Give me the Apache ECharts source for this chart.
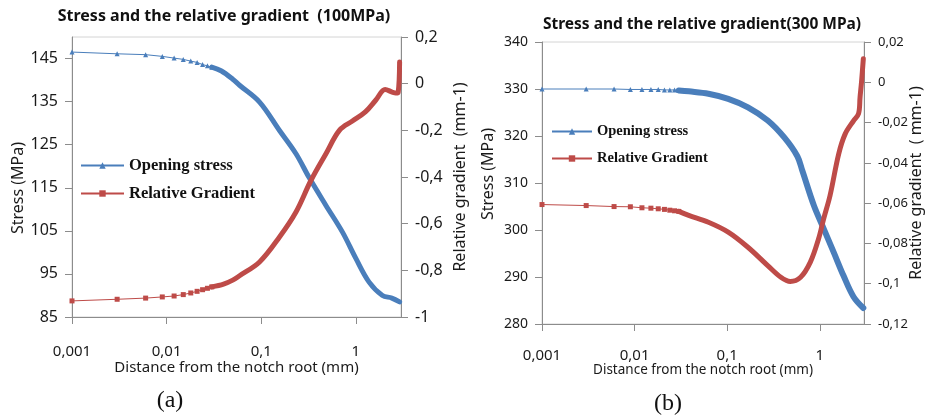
<!DOCTYPE html>
<html>
<head>
<meta charset="utf-8">
<script src="https://cdn.jsdelivr.net/npm/echarts@6/dist/echarts.min.js"></script>
<style>
html, body { margin: 0; padding: 0; background: #fff; }
#main { width: 925px; height: 417px; }
</style>
</head>
<body>
<div id="main"></div>
<script>
// first points are far apart on the log axis, markers visible there
var distEarly = [0.001, 0.003, 0.006, 0.009, 0.012, 0.015, 0.018, 0.021, 0.024, 0.027, 0.03];

// (a) 100 MPa
var stressEarlyA = [146.5, 146.1, 145.9, 145.5, 145.1, 144.8, 144.4, 144.1, 143.6, 143.3, 143.0];
var gradEarlyA = [-0.931, -0.924, -0.919, -0.914, -0.910, -0.904, -0.897, -0.890, -0.883, -0.877, -0.871];
var stressDistA = [0.03, 0.038, 0.05, 0.059, 0.096, 0.156, 0.233, 0.322, 0.483, 0.722, 1.0, 1.38, 1.91, 2.4, 2.9];
var stressA = [143.0, 142.1, 140.2, 138.8, 134.9, 128.3, 122.9, 117.3, 110.9, 104.7, 98.6, 93.1, 90.0, 89.4, 88.5];
var gradDistA = [0.03, 0.04, 0.05, 0.059, 0.096, 0.156, 0.233, 0.336, 0.483, 0.67, 0.92, 1.26, 1.62, 2.04, 2.42, 2.64, 2.8, 2.9];
var gradA = [-0.871, -0.859, -0.842, -0.823, -0.764, -0.657, -0.550, -0.414, -0.300, -0.200, -0.160, -0.121, -0.071, -0.025, -0.036, -0.040, -0.037, 0.093];

// (b) 300 MPa
var stressEarlyB = [330.0, 330.0, 330.0, 329.9, 329.9, 329.9, 329.9, 329.8, 329.8, 329.8, 329.7];
var gradEarlyB = [-0.0607, -0.0612, -0.0617, -0.0618, -0.0623, -0.0625, -0.0628, -0.0631, -0.0635, -0.0638, -0.0641];
var stressDistB = [0.03, 0.0384, 0.0627, 0.1025, 0.1675, 0.274, 0.413, 0.572, 0.648, 0.863, 1.10, 1.41, 1.80, 2.31, 2.95];
var stressB = [329.7, 329.5, 329.0, 327.9, 326.1, 323.3, 319.7, 315.7, 312.6, 305.2, 300.3, 295.3, 290.3, 285.8, 283.4];
var gradDistB = [0.03, 0.0384, 0.0627, 0.1025, 0.1675, 0.274, 0.38, 0.48, 0.62, 0.79, 0.97, 1.10, 1.29, 1.60, 1.88, 2.32, 2.62, 2.72, 2.83, 2.95];
var gradB = [-0.0641, -0.0661, -0.0695, -0.0744, -0.0819, -0.0910, -0.0968, -0.0989, -0.0968, -0.0893, -0.0777, -0.0678, -0.0562, -0.0355, -0.0256, -0.0190, -0.0156, -0.0074, 0.0009, 0.0117];

// tick labels
var distTicks = [0.001, 0.01, 0.1, 1];
var stressTicksA = [85, 95, 105, 115, 125, 135, 145];
var gradTicksA = [-1, -0.8, -0.6, -0.4, -0.2, 0, 0.2];
var stressTicksB = [280, 290, 300, 310, 320, 330, 340];
var gradTicksB = [-0.12, -0.1, -0.08, -0.06, -0.04, -0.02, 0, 0.02];

var blue = '#4A7EBB';
var red = '#BE4B48';
var axisGray = '#8c8c8c';
var txt = '#1a1a1a';
var sans = 'Noto Sans';

function comma(v) {
    return String(Math.round(v * 10000) / 10000).replace('.', ',');
}
function pairs(xs, ys) {
    return xs.map(function (x, i) { return [x, ys[i]]; });
}

function xAxisFor(grid, labelMargin, nameGap, nameSize) {
    return {
        type: 'log', logBase: 10, gridIndex: grid, min: 0.001, max: 3,
        axisLine: { show: true, onZero: false, lineStyle: { color: axisGray } },
        axisTick: { show: true, length: 7, customValues: distTicks, lineStyle: { color: axisGray } },
        axisLabel: { customValues: distTicks, formatter: comma, margin: labelMargin, fontSize: 15, color: txt, fontFamily: sans },
        splitLine: { show: false },
        name: 'Distance from the notch root (mm)', nameLocation: 'middle', nameGap: nameGap, nameMoveOverlap: false,
        nameTextStyle: { fontSize: nameSize, color: txt, fontFamily: sans }
    };
}

function yAxisFor(grid, pos, min, max, ticks, labelSize, name, nameGap, namePad) {
    return {
        type: 'value', gridIndex: grid, position: pos, min: min, max: max,
        axisLine: { show: true, onZero: false, lineStyle: { color: axisGray } },
        axisTick: { show: true, length: 7, customValues: ticks, lineStyle: { color: axisGray } },
        axisLabel: { customValues: ticks, formatter: comma, margin: 14, fontSize: labelSize, color: txt, fontFamily: sans },
        splitLine: { show: false },
        name: name, nameLocation: 'middle', nameGap: nameGap, nameMoveOverlap: false,
        nameTextStyle: { fontSize: 16, color: txt, fontFamily: sans, padding: namePad }
    };
}

function marked(name, x, yi, dist, vals, sym, color) {
    return {
        name: name, type: 'line', xAxisIndex: x, yAxisIndex: yi,
        data: pairs(dist, vals), symbol: sym, symbolSize: 5, showSymbol: true,
        lineStyle: { width: 1, color: color }, itemStyle: { color: color },
        animation: false, z: 3
    };
}
function band(name, x, yi, dist, vals, width, color) {
    return {
        name: name, type: 'line', xAxisIndex: x, yAxisIndex: yi,
        data: pairs(dist, vals), symbol: 'none', smooth: 0.35,
        lineStyle: { width: width, color: color, cap: 'round', join: 'round' },
        itemStyle: { color: color }, animation: false, z: 3
    };
}

var myChart = echarts.init(document.getElementById('main'));

var option = {
    backgroundColor: '#fff',
    title: [{
        text: 'Stress and the relative gradient  (100MPa)',
        left: 219, top: 3, textAlign: 'center',
        textStyle: { fontSize: 16, fontWeight: 'bold', color: '#111', fontFamily: sans }
    }, {
        text: 'Stress and the relative gradient(300 MPa)',
        left: 697, top: 12, textAlign: 'center',
        textStyle: { fontSize: 15.5, fontWeight: 'bold', color: '#111', fontFamily: sans }
    }, {
        text: '(a)', left: 165, top: 384, textAlign: 'center',
        textStyle: { fontSize: 24, fontWeight: 'normal', color: '#111', fontFamily: 'Liberation Serif' }
    }, {
        text: '(b)', left: 663, top: 387, textAlign: 'center',
        textStyle: { fontSize: 24, fontWeight: 'normal', color: '#111', fontFamily: 'Liberation Serif' }
    }],
    legend: [{
        data: ['Opening stress', 'Relative Gradient'],
        orient: 'vertical', left: 80, top: 157, padding: 0, itemWidth: 43, itemHeight: 8, itemGap: 11,
        textStyle: { fontSize: 16.5, fontWeight: 'bold', color: '#111', fontFamily: 'Liberation Serif' }
    }, {
        data: ['Opening stress', 'Relative Gradient'],
        orient: 'vertical', left: 551, top: 124, padding: 0, itemWidth: 40, itemHeight: 8, itemGap: 12,
        textStyle: { fontSize: 14.5, fontWeight: 'bold', color: '#111', fontFamily: 'Liberation Serif' }
    }],
    grid: [
        { left: 72, top: 37, width: 329, height: 280, show: true, borderColor: '#d4d4d4', borderWidth: 1 },
        { left: 542, top: 42, width: 325, height: 282, show: true, borderColor: '#d4d4d4', borderWidth: 1 }
    ],
    xAxis: [
        xAxisFor(0, 27, 43, 15),
        xAxisFor(1, 24, 39, 13.5)
    ],
    yAxis: [
        yAxisFor(0, 'left', 85, 150, stressTicksA, 16, 'Stress (MPa)', 46, [0, 22, 0, 0]),
        yAxisFor(0, 'right', -1, 0.2, gradTicksA, 16, 'Relative gradient  (mm-1)', 51, 0),
        yAxisFor(1, 'left', 280, 340, stressTicksB, 14, 'Stress (MPa)', 46, [0, 0, 0, 18]),
        yAxisFor(1, 'right', -0.12, 0.02, gradTicksB, 13, 'Relative gradient  ( mm-1)', 44, 0)
    ],
    series: [
        band('stress band a', 0, 0, stressDistA, stressA, 5, blue),
        band('gradient band a', 0, 1, gradDistA, gradA, 5, red),
        marked('Opening stress', 0, 0, distEarly, stressEarlyA, 'triangle', blue),
        marked('Relative Gradient', 0, 1, distEarly, gradEarlyA, 'rect', red),
        band('stress band b', 1, 2, stressDistB, stressB, 6, blue),
        band('gradient band b', 1, 3, gradDistB, gradB, 5, red),
        marked('Opening stress', 1, 2, distEarly, stressEarlyB, 'triangle', blue),
        marked('Relative Gradient', 1, 3, distEarly, gradEarlyB, 'rect', red)
    ]
};
myChart.setOption(option);
</script>
</body>
</html>
